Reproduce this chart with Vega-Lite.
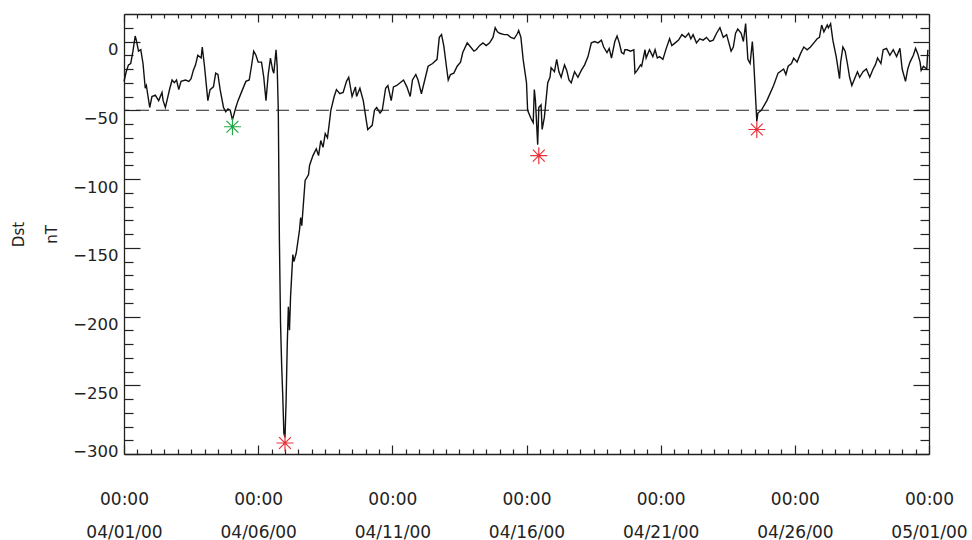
{
  "$schema": "https://vega.github.io/schema/vega-lite/v6.json",
  "width": 805,
  "height": 440,
  "autosize": "none",
  "padding": {"left": 124, "top": 14, "right": 43, "bottom": 86},
  "background": "white",
  "config": {
    "view": {"stroke": null},
    "axis": {
      "grid": false,
      "domainColor": "#222",
      "domainWidth": 1.3,
      "tickColor": "#222",
      "tickWidth": 1.2,
      "labelFont": "DejaVu Sans",
      "labelFontSize": 17,
      "labelColor": "#222",
      "titleFont": "DejaVu Sans",
      "titleFontSize": 15,
      "titleFontWeight": "normal",
      "titleColor": "#222"
    }
  },
  "datasets": {
    "dst": [
      {"h":0,"dst":-29},{"h":2,"dst":-22},{"h":4,"dst":-17},{"h":6,"dst":-16},{"h":8,"dst":-7},{"h":10,"dst":4},{"h":11,"dst":1},{"h":13,"dst":-7},{"h":15,"dst":-6},{"h":17,"dst":-16},{"h":19,"dst":-34},{"h":20,"dst":-32},{"h":23,"dst":-48},{"h":25,"dst":-40},{"h":28,"dst":-39},{"h":31,"dst":-43},{"h":34,"dst":-37},{"h":35,"dst":-43},{"h":37,"dst":-48},{"h":39,"dst":-41},{"h":41,"dst":-34},{"h":43,"dst":-28},{"h":45,"dst":-30},{"h":47,"dst":-28},{"h":49,"dst":-35},{"h":51,"dst":-29},{"h":55,"dst":-28},{"h":58,"dst":-29},{"h":60,"dst":-27},{"h":62,"dst":-21},{"h":64,"dst":-17},{"h":66,"dst":-10},{"h":69,"dst":-12},{"h":70,"dst":-4},{"h":72,"dst":-18},{"h":75,"dst":-43},{"h":77,"dst":-35},{"h":80,"dst":-33},{"h":82,"dst":-23},{"h":84,"dst":-24},{"h":86,"dst":-35},{"h":89,"dst":-48},{"h":91,"dst":-51},{"h":93,"dst":-49},{"h":95,"dst":-50},{"h":97,"dst":-57},{"h":100,"dst":-48},{"h":102,"dst":-43},{"h":105,"dst":-37},{"h":109,"dst":-29},{"h":112,"dst":-28},{"h":114,"dst":-18},{"h":116,"dst":-7},{"h":118,"dst":-10},{"h":120,"dst":-15},{"h":123,"dst":-15},{"h":125,"dst":-26},{"h":127,"dst":-43},{"h":129,"dst":-24},{"h":131,"dst":-12},{"h":133,"dst":-21},{"h":134,"dst":-23},{"h":136,"dst":-6},{"h":137,"dst":-18},{"h":138,"dst":-50},{"h":139,"dst":-145},{"h":140,"dst":-205},{"h":141,"dst":-235},{"h":142,"dst":-258},{"h":143,"dst":-285},{"h":144,"dst":-288},{"h":145,"dst":-261},{"h":146,"dst":-221},{"h":147,"dst":-193},{"h":148,"dst":-210},{"h":149,"dst":-185},{"h":151,"dst":-155},{"h":152,"dst":-160},{"h":154,"dst":-154},{"h":157,"dst":-137},{"h":158,"dst":-128},{"h":159,"dst":-134},{"h":162,"dst":-101},{"h":165,"dst":-97},{"h":166,"dst":-90},{"h":169,"dst":-83},{"h":172,"dst":-78},{"h":174,"dst":-83},{"h":176,"dst":-72},{"h":178,"dst":-77},{"h":180,"dst":-67},{"h":182,"dst":-70},{"h":184,"dst":-57},{"h":185,"dst":-50},{"h":188,"dst":-40},{"h":190,"dst":-35},{"h":193,"dst":-38},{"h":196,"dst":-37},{"h":199,"dst":-29},{"h":201,"dst":-26},{"h":204,"dst":-40},{"h":207,"dst":-33},{"h":208,"dst":-40},{"h":211,"dst":-34},{"h":214,"dst":-43},{"h":217,"dst":-59},{"h":218,"dst":-64},{"h":222,"dst":-61},{"h":224,"dst":-50},{"h":226,"dst":-48},{"h":229,"dst":-52},{"h":231,"dst":-50},{"h":234,"dst":-34},{"h":236,"dst":-32},{"h":239,"dst":-43},{"h":241,"dst":-33},{"h":244,"dst":-32},{"h":247,"dst":-30},{"h":250,"dst":-28},{"h":253,"dst":-33},{"h":256,"dst":-40},{"h":258,"dst":-28},{"h":261,"dst":-24},{"h":263,"dst":-28},{"h":266,"dst":-38},{"h":269,"dst":-28},{"h":272,"dst":-18},{"h":276,"dst":-16},{"h":280,"dst":-13},{"h":282,"dst":3},{"h":284,"dst":5},{"h":286,"dst":-3},{"h":289,"dst":-22},{"h":290,"dst":-28},{"h":292,"dst":-24},{"h":295,"dst":-23},{"h":298,"dst":-18},{"h":301,"dst":-15},{"h":303,"dst":-8},{"h":307,"dst":-1},{"h":310,"dst":-4},{"h":313,"dst":-7},{"h":315,"dst":-6},{"h":318,"dst":-3},{"h":321,"dst":-1},{"h":324,"dst":-3},{"h":327,"dst":-1},{"h":330,"dst":3},{"h":332,"dst":10},{"h":334,"dst":7},{"h":336,"dst":6},{"h":340,"dst":5},{"h":343,"dst":5},{"h":346,"dst":3},{"h":349,"dst":2},{"h":352,"dst":6},{"h":353,"dst":8},{"h":355,"dst":3},{"h":357,"dst":-13},{"h":360,"dst":-30},{"h":361,"dst":-50},{"h":364,"dst":-56},{"h":366,"dst":-59},{"h":367,"dst":-35},{"h":368,"dst":-43},{"h":370,"dst":-75},{"h":371,"dst":-48},{"h":373,"dst":-46},{"h":374,"dst":-64},{"h":376,"dst":-55},{"h":379,"dst":-30},{"h":381,"dst":-26},{"h":382,"dst":-19},{"h":385,"dst":-22},{"h":387,"dst":-13},{"h":389,"dst":-22},{"h":391,"dst":-26},{"h":394,"dst":-17},{"h":396,"dst":-21},{"h":398,"dst":-28},{"h":400,"dst":-30},{"h":403,"dst":-22},{"h":406,"dst":-26},{"h":409,"dst":-21},{"h":412,"dst":-17},{"h":415,"dst":-11},{"h":418,"dst":-1},{"h":421,"dst":0},{"h":424,"dst":-1},{"h":427,"dst":1},{"h":429,"dst":-4},{"h":432,"dst":-8},{"h":434,"dst":-5},{"h":436,"dst":-12},{"h":439,"dst":0},{"h":441,"dst":4},{"h":443,"dst":-1},{"h":445,"dst":-8},{"h":447,"dst":-9},{"h":448,"dst":-6},{"h":450,"dst":-6},{"h":453,"dst":-7},{"h":456,"dst":-6},{"h":457,"dst":-23},{"h":459,"dst":-21},{"h":462,"dst":-17},{"h":463,"dst":-18},{"h":466,"dst":-6},{"h":467,"dst":-12},{"h":470,"dst":-6},{"h":473,"dst":-11},{"h":475,"dst":-6},{"h":477,"dst":-12},{"h":479,"dst":-11},{"h":482,"dst":-13},{"h":485,"dst":-5},{"h":488,"dst":2},{"h":490,"dst":-3},{"h":493,"dst":-1},{"h":496,"dst":1},{"h":499,"dst":5},{"h":502,"dst":3},{"h":505,"dst":6},{"h":507,"dst":2},{"h":509,"dst":5},{"h":512,"dst":-1},{"h":515,"dst":2},{"h":518,"dst":1},{"h":521,"dst":3},{"h":524,"dst":0},{"h":527,"dst":1},{"h":530,"dst":6},{"h":533,"dst":10},{"h":536,"dst":3},{"h":539,"dst":5},{"h":543,"dst":-7},{"h":545,"dst":-4},{"h":547,"dst":6},{"h":549,"dst":9},{"h":552,"dst":6},{"h":554,"dst":0},{"h":556,"dst":13},{"h":558,"dst":-13},{"h":560,"dst":-16},{"h":562,"dst":0},{"h":563,"dst":-11},{"h":566,"dst":-58},{"h":567,"dst":-52},{"h":570,"dst":-50},{"h":575,"dst":-43},{"h":581,"dst":-32},{"h":585,"dst":-23},{"h":590,"dst":-20},{"h":592,"dst":-24},{"h":594,"dst":-18},{"h":597,"dst":-16},{"h":599,"dst":-12},{"h":602,"dst":-15},{"h":605,"dst":-9},{"h":608,"dst":-4},{"h":611,"dst":-6},{"h":614,"dst":-4},{"h":617,"dst":-1},{"h":620,"dst":2},{"h":622,"dst":3},{"h":624,"dst":12},{"h":626,"dst":7},{"h":629,"dst":12},{"h":630,"dst":10},{"h":632,"dst":13},{"h":634,"dst":1},{"h":637,"dst":-11},{"h":640,"dst":-27},{"h":641,"dst":-15},{"h":643,"dst":-4},{"h":645,"dst":-7},{"h":647,"dst":-16},{"h":649,"dst":-26},{"h":651,"dst":-32},{"h":654,"dst":-26},{"h":656,"dst":-22},{"h":658,"dst":-26},{"h":661,"dst":-22},{"h":664,"dst":-20},{"h":667,"dst":-26},{"h":670,"dst":-20},{"h":672,"dst":-17},{"h":674,"dst":-12},{"h":677,"dst":-16},{"h":679,"dst":-6},{"h":682,"dst":-5},{"h":685,"dst":-10},{"h":688,"dst":-6},{"h":691,"dst":-11},{"h":694,"dst":-5},{"h":696,"dst":-20},{"h":699,"dst":-29},{"h":701,"dst":-20},{"h":703,"dst":-15},{"h":706,"dst":-10},{"h":708,"dst":-5},{"h":710,"dst":-9},{"h":712,"dst":-15},{"h":713,"dst":-21},{"h":715,"dst":-18},{"h":718,"dst":-20},{"h":719,"dst":-6}
    ],
    "peaks": [
      {"h": 97, "dst": -62, "class": "a"},
      {"h": 144, "dst": -292, "class": "b"},
      {"h": 371, "dst": -83, "class": "b"},
      {"h": 566, "dst": -64, "class": "b"}
    ],
    "threshold": [{"level": -50}]
  },
  "layer": [
    {
      "data": {"name": "threshold"},
      "mark": {"type": "rule", "color": "#222", "strokeDash": [13, 7], "strokeWidth": 1.2},
      "encoding": {
        "y": {"field": "level", "type": "quantitative", "axis": null}
      }
    },
    {
      "data": {"name": "dst"},
      "mark": {"type": "line", "color": "#111", "strokeWidth": 1.4},
      "encoding": {
        "x": {
          "field": "h",
          "type": "quantitative",
          "scale": {"domain": [0, 720], "nice": false, "zero": false},
          "axis": {
            "orient": "bottom",
            "title": null,
            "values": [0,12,24,36,48,60,72,84,96,108,120,132,144,156,168,180,192,204,216,228,240,252,264,276,288,300,312,324,336,348,360,372,384,396,408,420,432,444,456,468,480,492,504,516,528,540,552,564,576,588,600,612,624,636,648,660,672,684,696,708,720],
            "tickSize": 5,
            "labelPadding": 32,
            "labelExpr": "datum.value % 120 === 0 ? ['00:00', timeFormat(datetime(2000, 3, 1 + datum.value / 24), '%m/%d/%y')] : ''",
            "labelLineHeight": 33,
            "labelFlush": false,
            "labelOverlap": false,
            "labelBound": false,
            "encoding": {"ticks": {"y2": {"condition": {"test": "datum.value % 120 === 0", "value": -9}, "value": -5}}}
          }
        },
        "y": {
          "field": "dst",
          "type": "quantitative",
          "scale": {"domain": [-300, 20], "nice": false, "zero": false},
          "axis": {
            "orient": "left",
            "title": ["Dst", "nT"],
            "titleAngle": 270,
            "titleX": -105.5,
            "titleY": 220,
            "titleAlign": "center",
            "titleBaseline": "middle",
            "titleLineHeight": 33,
            "values": [-300,-290,-280,-270,-260,-250,-240,-230,-220,-210,-200,-190,-180,-170,-160,-150,-140,-130,-120,-110,-100,-90,-80,-70,-60,-50,-40,-30,-20,-10,0,10],
            "tickSize": 5,
            "labelPadding": 1,
            "labelFontSize": 16.5,
            "labelExpr": "datum.value % 50 === 0 ? datum.label : ''",
            "labelOffset": 8,
            "labelFlush": true,
            "labelFlushOffset": -3,
            "labelOverlap": false,
            "encoding": {"ticks": {"x2": {"condition": {"test": "datum.value % 50 === 0", "value": 16}, "value": 9}}}
          }
        }
      }
    },
    {
      "data": {"name": "peaks"},
      "mark": {
        "type": "point",
        "shape": "M-1,0L1,0M0,-1L0,1M-0.7,-0.7L0.7,0.7M-0.7,0.7L0.7,-0.7",
        "size": 289,
        "filled": false,
        "strokeWidth": 1.2,
        "opacity": 1
      },
      "encoding": {
        "x": {
          "field": "h",
          "type": "quantitative",
          "axis": {
            "orient": "top",
            "title": null,
            "labels": false,
            "values": [0,12,24,36,48,60,72,84,96,108,120,132,144,156,168,180,192,204,216,228,240,252,264,276,288,300,312,324,336,348,360,372,384,396,408,420,432,444,456,468,480,492,504,516,528,540,552,564,576,588,600,612,624,636,648,660,672,684,696,708,720],
            "tickSize": 5,
            "encoding": {"ticks": {"y2": {"condition": {"test": "datum.value % 120 === 0", "value": 8}, "value": 4}}}
          }
        },
        "y": {
          "field": "dst",
          "type": "quantitative",
          "axis": {
            "orient": "right",
            "title": null,
            "labels": false,
            "values": [-300,-290,-280,-270,-260,-250,-240,-230,-220,-210,-200,-190,-180,-170,-160,-150,-140,-130,-120,-110,-100,-90,-80,-70,-60,-50,-40,-30,-20,-10,0,10],
            "tickSize": 5,
            "encoding": {"ticks": {"x2": {"condition": {"test": "datum.value % 50 === 0", "value": -16}, "value": -9}}}
          }
        },
        "color": {
          "field": "class",
          "type": "nominal",
          "scale": {"domain": ["a", "b"], "range": ["#1fa845", "#e8323a"]},
          "legend": null
        }
      }
    }
  ],
  "resolve": {"axis": {"x": "independent", "y": "independent"}}
}
